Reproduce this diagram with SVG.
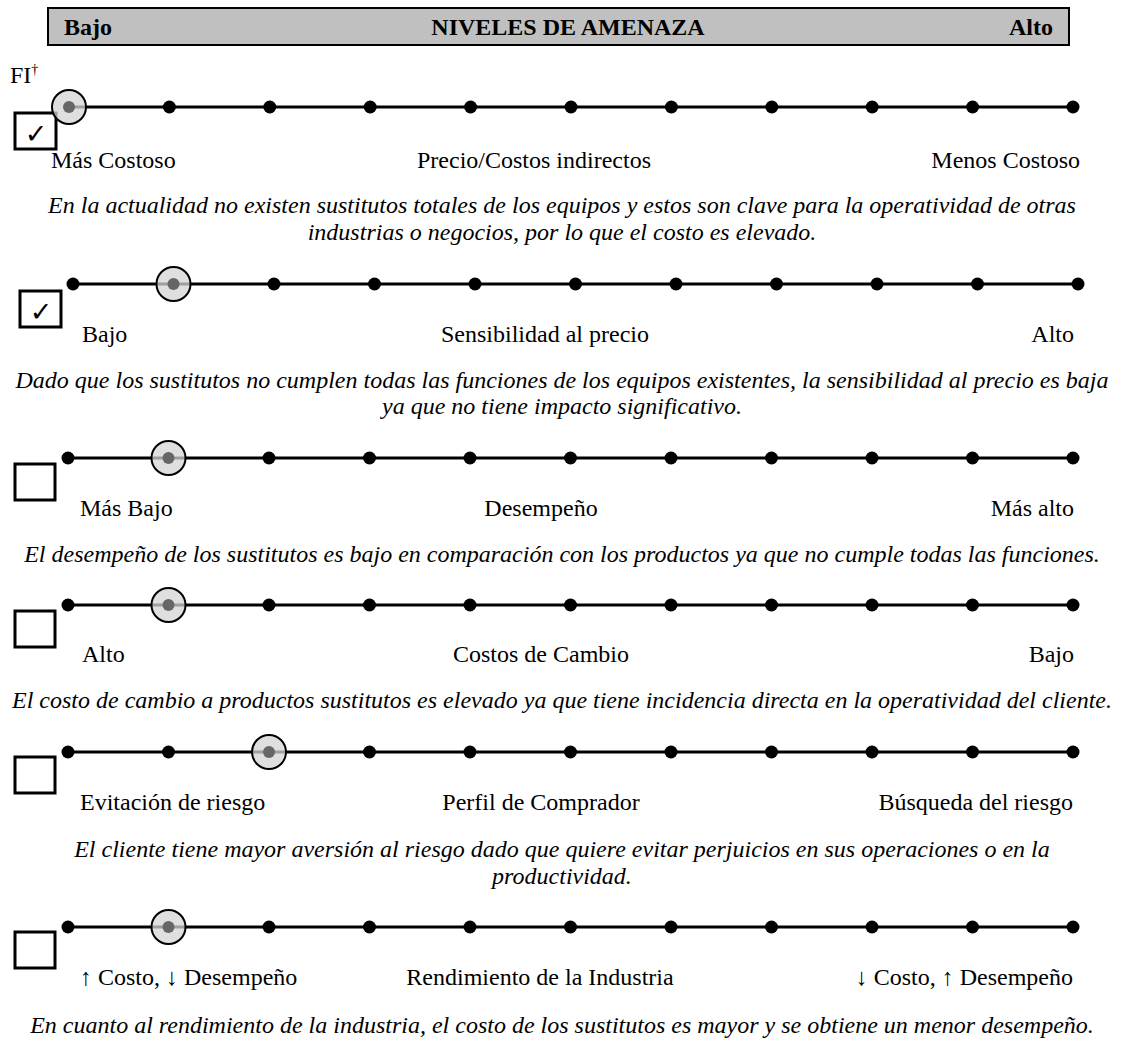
<svg xmlns="http://www.w3.org/2000/svg" xmlns:xlink="http://www.w3.org/1999/xlink" width="1124" height="1039" viewBox="0 0 1124 1039">
<style>
text{font-family:"Liberation Serif","Times New Roman",serif;font-size:24px;fill:#000}
.b{font-weight:bold}
.i{font-style:italic}
.m{text-anchor:middle}
.e{text-anchor:end}
.chk{fill:#fff;stroke:#000;stroke-width:3}
.tick{font-family:"DejaVu Sans",sans-serif;font-size:27px;text-anchor:middle}
.ln{stroke:#000;stroke-width:3}
</style>
<defs>
<circle id="dot" r="6.5" fill="#000"/>
<g id="sel"><circle r="17" fill="#d4d4d4" fill-opacity="0.75" stroke="#000" stroke-width="2"/><circle r="6" fill="#666"/></g>
</defs>
<rect width="1124" height="1039" fill="#fff"/>
<g id="header">
<rect x="48" y="8" width="1021" height="37" fill="#c0c0c0" stroke="#000" stroke-width="2"/>
<text class="b" x="64" y="35">Bajo</text>
<text class="b m" x="568" y="35">NIVELES DE AMENAZA</text>
<text class="b e" x="1053" y="35">Alto</text>
</g>
<text x="10" y="83">FI<tspan font-size="14" dy="-9">†</tspan></text>
<g id="connectors">
<line class="ln" x1="69" y1="107" x2="1073" y2="107"/>
<line class="ln" x1="73" y1="284" x2="1078" y2="284"/>
<line class="ln" x1="68" y1="458" x2="1073" y2="458"/>
<line class="ln" x1="68" y1="605" x2="1073" y2="605"/>
<line class="ln" x1="68" y1="752" x2="1073" y2="752"/>
<line class="ln" x1="68" y1="927" x2="1073" y2="927"/>
</g>
<g id="row1">
<rect class="chk" x="15" y="113" width="41" height="36"/>
<text class="tick" x="36" y="143">✓</text>
<use href="#dot" x="169.4" y="107"/><use href="#dot" x="269.8" y="107"/><use href="#dot" x="370.2" y="107"/><use href="#dot" x="470.6" y="107"/><use href="#dot" x="571" y="107"/><use href="#dot" x="671.4" y="107"/><use href="#dot" x="771.8" y="107"/><use href="#dot" x="872.2" y="107"/><use href="#dot" x="972.6" y="107"/><use href="#dot" x="1073" y="107"/>
<use href="#sel" x="69" y="107"/>
<text x="51" y="168">Más Costoso</text>
<text class="m" x="534" y="168">Precio/Costos indirectos</text>
<text class="e" x="1080" y="168">Menos Costoso</text>
<text class="i m" x="562" y="213">En la actualidad no existen sustitutos totales de los equipos y estos son clave para la operatividad de otras</text>
<text class="i m" x="562" y="240">industrias o negocios, por lo que el costo es elevado.</text>
</g>
<g id="row2">
<rect class="chk" x="20" y="291" width="41" height="36"/>
<text class="tick" x="41" y="321">✓</text>
<use href="#dot" x="73" y="284"/><use href="#dot" x="274" y="284"/><use href="#dot" x="374.5" y="284"/><use href="#dot" x="475" y="284"/><use href="#dot" x="575.5" y="284"/><use href="#dot" x="676" y="284"/><use href="#dot" x="776.5" y="284"/><use href="#dot" x="877" y="284"/><use href="#dot" x="977.5" y="284"/><use href="#dot" x="1078" y="284"/>
<use href="#sel" x="173.5" y="284"/>
<text x="82" y="342">Bajo</text>
<text class="m" x="545" y="342">Sensibilidad al precio</text>
<text class="e" x="1074" y="342">Alto</text>
<text class="i m" x="562" y="388">Dado que los sustitutos no cumplen todas las funciones de los equipos existentes, la sensibilidad al precio es baja</text>
<text class="i m" x="562" y="414">ya que no tiene impacto significativo.</text>
</g>
<g id="row3">
<rect class="chk" x="15" y="464" width="40" height="36"/>
<use href="#dot" x="68" y="458"/><use href="#dot" x="269" y="458"/><use href="#dot" x="369.5" y="458"/><use href="#dot" x="470" y="458"/><use href="#dot" x="570.5" y="458"/><use href="#dot" x="671" y="458"/><use href="#dot" x="771.5" y="458"/><use href="#dot" x="872" y="458"/><use href="#dot" x="972.5" y="458"/><use href="#dot" x="1073" y="458"/>
<use href="#sel" x="168.5" y="458"/>
<text x="80" y="516">Más Bajo</text>
<text class="m" x="541" y="516">Desempeño</text>
<text class="e" x="1074" y="516">Más alto</text>
<text class="i m" x="562" y="562">El desempeño de los sustitutos es bajo en comparación con los productos ya que no cumple todas las funciones.</text>
</g>
<g id="row4">
<rect class="chk" x="15" y="611" width="40" height="36"/>
<use href="#dot" x="68" y="605"/><use href="#dot" x="269" y="605"/><use href="#dot" x="369.5" y="605"/><use href="#dot" x="470" y="605"/><use href="#dot" x="570.5" y="605"/><use href="#dot" x="671" y="605"/><use href="#dot" x="771.5" y="605"/><use href="#dot" x="872" y="605"/><use href="#dot" x="972.5" y="605"/><use href="#dot" x="1073" y="605"/>
<use href="#sel" x="168.5" y="605"/>
<text x="82" y="662">Alto</text>
<text class="m" x="541" y="662">Costos de Cambio</text>
<text class="e" x="1074" y="662">Bajo</text>
<text class="i m" x="562" y="708">El costo de cambio a productos sustitutos es elevado ya que tiene incidencia directa en la operatividad del cliente.</text>
</g>
<g id="row5">
<rect class="chk" x="15" y="757" width="40" height="36"/>
<use href="#dot" x="68" y="752"/><use href="#dot" x="168.5" y="752"/><use href="#dot" x="369.5" y="752"/><use href="#dot" x="470" y="752"/><use href="#dot" x="570.5" y="752"/><use href="#dot" x="671" y="752"/><use href="#dot" x="771.5" y="752"/><use href="#dot" x="872" y="752"/><use href="#dot" x="972.5" y="752"/><use href="#dot" x="1073" y="752"/>
<use href="#sel" x="269" y="752"/>
<text x="80" y="810">Evitación de riesgo</text>
<text class="m" x="541" y="810">Perfil de Comprador</text>
<text class="e" x="1073" y="810">Búsqueda del riesgo</text>
<text class="i m" x="562" y="857">El cliente tiene mayor aversión al riesgo dado que quiere evitar perjuicios en sus operaciones o en la</text>
<text class="i m" x="562" y="884">productividad.</text>
</g>
<g id="row6">
<rect class="chk" x="15" y="932" width="40" height="36"/>
<use href="#dot" x="68" y="927"/><use href="#dot" x="269" y="927"/><use href="#dot" x="369.5" y="927"/><use href="#dot" x="470" y="927"/><use href="#dot" x="570.5" y="927"/><use href="#dot" x="671" y="927"/><use href="#dot" x="771.5" y="927"/><use href="#dot" x="872" y="927"/><use href="#dot" x="972.5" y="927"/><use href="#dot" x="1073" y="927"/>
<use href="#sel" x="168.5" y="927"/>
<text x="80" y="985">↑ Costo, ↓ Desempeño</text>
<text class="m" x="540" y="985">Rendimiento de la Industria</text>
<text class="e" x="1073" y="985">↓ Costo, ↑ Desempeño</text>
<text class="i m" x="562" y="1033">En cuanto al rendimiento de la industria, el costo de los sustitutos es mayor y se obtiene un menor desempeño.</text>
</g>
</svg>
